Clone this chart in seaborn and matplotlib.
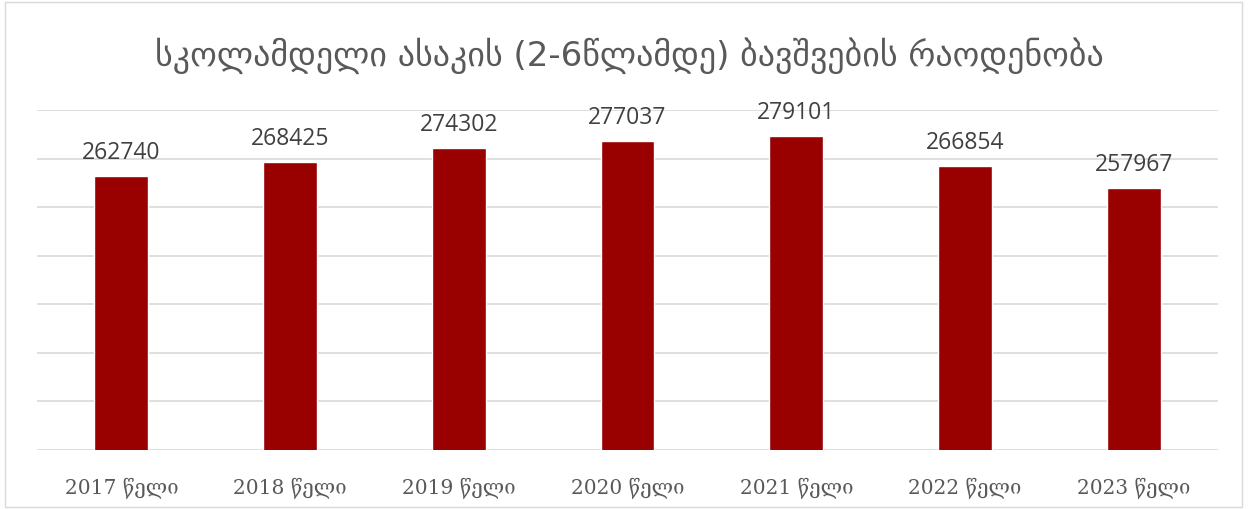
import matplotlib
matplotlib.use("Agg")
import matplotlib.pyplot as plt
import seaborn as sns
import pandas as pd

years = ["2017 წელი", "2018 წელი", "2019 წელი", "2020 წელი", "2021 წელი", "2022 წელი", "2023 წელი"]
children = [262740, 268425, 274302, 277037, 279101, 266854, 257967]
title = "სკოლამდელი ასაკის (2-6წლამდე) ბავშვების რაოდენობა"

df = pd.DataFrame({"year": years, "count": children})

sns.set_style("white")
fig = plt.figure(figsize=(12.52, 5.10), dpi=100)
ax = fig.add_axes([0.0296, 0.1157, 0.9432, 0.6667])

sns.barplot(data=df, x="year", y="count", color="#990000", width=0.32, ax=ax,
            saturation=1, zorder=3)

ax.set_ylim(150000, 290000)
ax.set_yticks(range(150000, 290001, 20000))
ax.yaxis.grid(True, color="#d9d9d9", linewidth=1.2, zorder=0)
ax.tick_params(axis="y", left=False, labelleft=False)
ax.tick_params(axis="x", bottom=False, pad=16)
for lab in ax.get_xticklabels():
    lab.set_fontfamily(["DejaVu Serif", "DejaVu Sans"])
    lab.set_fontsize(14.5)
    lab.set_color("#595959")
for s in ax.spines.values():
    s.set_visible(False)
ax.set_xlabel("")
ax.set_ylabel("")

for i, v in enumerate(children):
    ax.text(i, v + 5000, str(v), ha="center", va="bottom", fontsize=16.5,
            color="#404040", family=["Open Sans", "DejaVu Sans"])

fig.text(0.503, 0.89, title, ha="center", va="center", fontsize=24.5,
         color="#595959", family=["DejaVu Sans"])

fig.patches.append(plt.Rectangle((0.004, 0.004), 0.988, 0.99, transform=fig.transFigure,
                                 fill=False, edgecolor="#d9d9d9", linewidth=1))

fig.savefig("out.png", dpi=100)
